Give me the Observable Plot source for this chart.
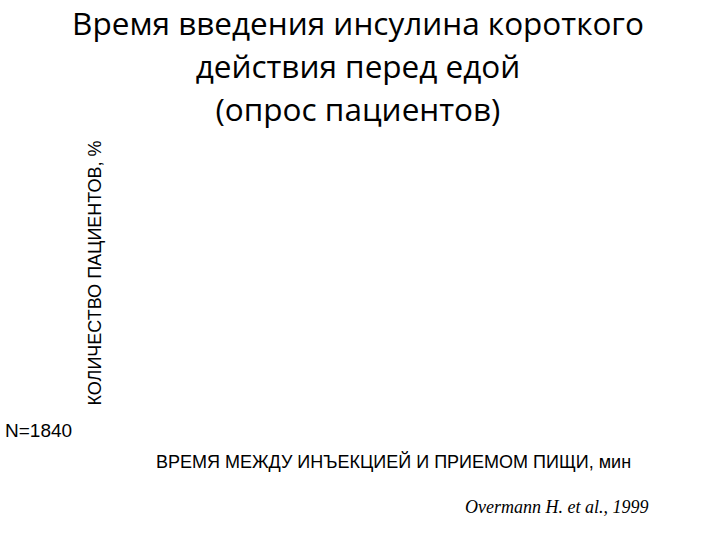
<!DOCTYPE html>
<html><head><meta charset="utf-8">
<script src="https://cdn.jsdelivr.net/npm/d3@7"></script>
<script src="https://cdn.jsdelivr.net/npm/@observablehq/plot@0.6"></script>
<style>
body{margin:0;background:#fff;}
#wrap{position:relative;width:720px;height:540px;overflow:hidden;}
#title{position:absolute;left:0;top:1px;width:716px;text-align:center;font-family:"Open Sans",sans-serif;font-size:31.5px;line-height:43px;color:#000;}
#n{position:absolute;left:5px;top:420px;font-family:"Liberation Sans",Arial,sans-serif;font-size:19px;color:#000;}
#cap{position:absolute;left:465px;top:497px;font-family:"Liberation Serif",serif;font-style:italic;font-size:18px;color:#000;}
#chart{position:absolute;left:0;top:0;}
</style></head>
<body><div id="wrap">
<div id="chart"></div>
<div id="title"></div>
<div id="n"></div>
<div id="cap"></div>
</div>
<script>
const titleLines = ["Время введения инсулина короткого", "действия перед едой", "(опрос пациентов)"];
const yLabel = "КОЛИЧЕСТВО ПАЦИЕНТОВ, %";
const xLabel = "ВРЕМЯ МЕЖДУ ИНЪЕКЦИЕЙ И ПРИЕМОМ ПИЩИ, мин";
const sampleNote = "N=1840";
const source = "Overmann H. et al., 1999";
// The reference shows no plotted data: empty series, no tick labels
const times = [];
const shares = [];
const xTicks = [];
const yTicks = [];

document.getElementById("title").innerHTML = titleLines.map(t => `<div>${t}</div>`).join("");
document.getElementById("n").textContent = sampleNote;
document.getElementById("cap").textContent = source;

const data = times.map((t, i) => ({t, v: shares[i]}));
const chart = Plot.plot({
  width: 720, height: 540,
  marginLeft: 105, marginRight: 39, marginTop: 140, marginBottom: 135,
  style: {fontFamily: "'Liberation Sans', Arial, sans-serif", fontSize: "16px", color: "#000", background: "transparent"},
  x: {domain: [0, 1]},
  y: {domain: [0, 1]},
  marks: [
    Plot.barY(data, {x: "t", y: "v", fill: "#000"}),
    Plot.axisY({ticks: yTicks, label: yLabel, labelAnchor: "center", labelArrow: "none", labelOffset: 17, fontSize: 18}),
    Plot.axisX({ticks: xTicks, label: xLabel, labelAnchor: "center", labelArrow: "none", labelOffset: 62, fontSize: 18})
  ]
});
document.getElementById("chart").appendChild(chart);
</script></body></html>
